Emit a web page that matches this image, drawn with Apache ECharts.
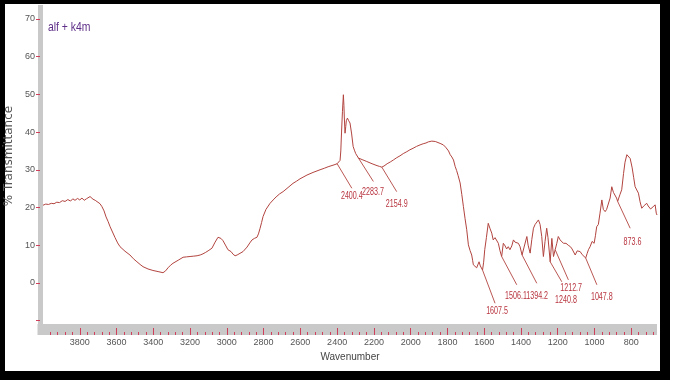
<!DOCTYPE html>
<html><head><meta charset="utf-8">
<script src="https://cdn.jsdelivr.net/npm/echarts@6/dist/echarts.min.js"></script>
<style>html,body{margin:0;padding:0;background:#fff}#c{width:673px;height:389px}</style>
</head><body><div id="c"></div>
<script>
const wavenumbers = [4000,3985,3970,3955,3940,3925,3910,3895,3880,3865,3850,3838,3826,3812,3800,3788,3776,3764,3755,3744,3736,3728,3716,3706,3690,3679,3668,3657,3646,3635,3622,3608,3594,3581,3554,3527,3508,3489,3472,3456,3429,3402,3374,3347,3333,3320,3306,3293,3265,3238,3220,3200,3180,3162,3145,3130,3115,3102,3081,3064,3048,3032,3021,3005,2994,2985,2977,2966,2955,2944,2934,2912,2890,2875,2863,2850,2836,2828,2819,2811,2803,2787,2765,2748,2732,2713,2694,2667,2640,2620,2602,2564,2531,2493,2470,2449,2417,2400,2390,2384,2380,2376,2371,2366,2363,2361,2357,2353,2350,2344,2337,2330,2321,2313,2306,2299,2284,2264,2239,2210,2183,2170,2157,2145,2128,2110,2094,2076,2058,2040,2021,2004,1987,1968,1949,1932,1917,1904,1894,1885,1876,1866,1856,1840,1822,1810,1802,1794,1785,1776,1767,1758,1750,1742,1731,1722,1713,1704,1695,1686,1677,1668,1663,1659,1650,1641,1633,1628,1621,1615,1609,1603,1597,1588,1578,1569,1559,1551,1541,1532,1523,1514,1505,1496,1486,1478,1469,1460,1450,1441,1432,1423,1414,1405,1394,1383,1368,1361,1350,1341,1332,1323,1314,1305,1296,1287,1278,1269,1260,1253,1241,1232,1223,1214,1205,1197,1187,1178,1169,1155,1143,1131,1122,1115,1105,1094,1086,1078,1067,1058,1048,1040,1033,1024,1013,1002,995,988,979,970,960,952,942,934,925,915,906,897,888,880,874,868,861,852,842,834,824,815,806,795,787,779,770,761,752,743,736,730,722,716,708,703,695,688,681,675,670,664,660];
const transmittance = [20.6,20.9,20.8,21.1,21.0,21.4,21.3,21.8,21.6,22.1,21.7,22.3,21.9,22.4,22.0,22.5,21.9,22.3,22.8,22.9,22.4,22.2,21.9,21.6,21.0,20.2,19.1,17.5,16.3,14.9,13.5,12.0,10.6,9.6,8.4,7.4,6.4,5.6,4.9,4.3,3.7,3.3,3.0,2.7,3.2,4.0,4.7,5.2,6.0,6.8,6.9,7.0,7.1,7.2,7.4,7.7,8.1,8.5,9.2,10.8,12.1,11.8,11.2,9.8,8.8,8.9,8.3,7.6,7.2,7.4,7.6,8.3,9.5,10.6,11.4,11.8,12.1,13.0,14.5,16.0,17.6,19.5,21.1,22.0,22.8,23.6,24.2,25.3,26.4,27.0,27.6,28.6,29.3,30.0,30.4,30.8,31.3,31.6,31.9,32.5,35.0,40.0,45.5,49.9,47.0,44.0,39.7,41.5,43.0,43.7,43.0,42.4,39.5,36.2,35.2,34.3,33.1,32.7,32.2,31.6,31.1,30.9,30.7,31.0,31.6,32.1,32.6,33.2,33.7,34.3,34.8,35.3,35.7,36.2,36.6,36.9,37.1,37.4,37.5,37.6,37.5,37.5,37.3,37.0,36.6,36.0,35.5,35.0,34.0,33.4,32.6,30.9,29.8,28.5,26.5,23.5,20.2,17.0,14.1,10.1,8.6,7.4,6.0,4.8,4.3,4.0,5.0,5.6,4.5,4.0,3.4,5.5,8.8,12.0,15.8,14.5,13.2,11.4,12.0,12.3,10.5,8.5,7.0,10.5,9.8,9.0,9.6,8.8,9.8,11.4,10.8,11.0,10.5,9.6,7.4,9.5,12.3,10.0,7.9,11.5,14.5,15.5,16.0,16.7,15.5,12.3,7.0,11.0,14.5,12.0,5.6,11.8,7.0,8.8,10.5,12.3,11.4,11.0,10.5,10.5,10.0,9.6,9.0,8.8,7.4,8.5,8.0,8.3,7.5,7.8,6.6,7.8,8.8,9.6,11.0,10.5,12.5,14.9,15.5,18.5,22.0,19.5,18.9,19.5,19.8,22.5,25.5,24.0,23.8,22.5,21.6,22.5,23.5,24.7,29.0,32.0,34.0,33.8,33.0,30.5,28.0,25.5,25.0,23.8,21.5,19.8,20.3,20.5,21.0,21.1,20.4,20.0,19.6,19.4,20.2,19.8,20.7,18.5,18.0];

const peakLabels = ['2400.4','2283.7','2154.9','1607.5','1506.1','1394.2','1240.8','1212.7','1047.8','873.6'];
const peakAnchors = [[2400,31.6],[2284,33.1],[2157,30.7],[1609,3.4],[1505,7.0],[1394,7.4],[1241,5.6],[1214,8.8],[1048,6.6],[874,21.6]];
const leaderEnds = [[2320,25.1],[2203,26.9],[2076,24.2],[1541,-5.4],[1423,-0.5],[1314,-0.1],[1178,0.3],[1142,0.8],[987,-0.5],[806,14.5]];
const labelCenters = [[2320,23.1],[2205,24.1],[2076,20.8],[1530,-7.4],[1427,-3.6],[1312,-3.4],[1155,-4.5],[1127,-1.4],[960,-3.8],[793,10.9]];

const xLabelValues = [800,1000,1200,1400,1600,1800,2000,2200,2400,2600,2800,3000,3200,3400,3600,3800];
const xMinorValues = [680,720,760,840,880,920,960,1040,1080,1120,1160,1240,1280,1320,1360,1440,1480,1520,1560,1640,1680,1720,1760,1840,1880,1920,1960,2040,2080,2120,2160,2240,2280,2320,2360,2440,2480,2520,2560,2640,2680,2720,2760,2840,2880,2920,2960,3040,3080,3120,3160,3240,3280,3320,3360,3440,3480,3520,3560,3640,3680,3720,3760,3840,3880,3920,3960];
const yLabelValues = [0,10,20,30,40,50,60,70];
const yTickValues = [-10,0,10,20,30,40,50,60,70];

const lineColor = '#b2443f';
const textRed = '#b8343f';
const tickRed = '#d0405a';
const bandGray = '#c9c9c9';
const narrow = "'Liberation Sans',Arial,sans-serif";
const X_MIN = 660, X_MAX = 4000, Y_MIN = -10.9, Y_MAX = 73.7;

const chart = echarts.init(document.getElementById('c'), null, {renderer: 'canvas'});

const baseX = {type: 'value', min: X_MIN, max: X_MAX, inverse: true, position: 'bottom', splitLine: {show: false}};

const annotationData = peakAnchors.map((a, i) => [a[0], a[1], leaderEnds[i][0], leaderEnds[i][1], labelCenters[i][0], labelCenters[i][1]]);

chart.setOption({
  animation: false,
  backgroundColor: '#ffffff',
  grid: {left: 43, right: 16, top: 5, bottom: 65},
  xAxis: [
    Object.assign({}, baseX, {
      offset: 5.5,
      axisLine: {show: true, onZero: false, lineStyle: {color: bandGray, width: 11, cap: 'butt'}},
      axisTick: {show: false},
      axisLabel: {customValues: xLabelValues, formatter: v => String(v), color: '#555', fontSize: 9, fontFamily: narrow, margin: 9},
      name: 'Wavenumber', nameLocation: 'middle', nameGap: 23,
      nameTextStyle: {color: '#444', fontSize: 10, fontFamily: narrow}
    }),
    Object.assign({}, baseX, {
      offset: 11,
      axisLine: {show: false, onZero: false},
      axisTick: {show: true, inside: true, length: 7, customValues: xLabelValues, lineStyle: {color: tickRed, width: 1}},
      axisLabel: {show: false}
    }),
    Object.assign({}, baseX, {
      offset: 11,
      axisLine: {show: false, onZero: false},
      axisTick: {show: true, inside: true, length: 3, customValues: xMinorValues, lineStyle: {color: tickRed, width: 1}},
      axisLabel: {show: false}
    })
  ],
  yAxis: {
    type: 'value', min: Y_MIN, max: Y_MAX, offset: 3,
    splitLine: {show: false},
    axisLine: {show: true, onZero: false, lineStyle: {color: bandGray, width: 5, cap: 'butt'}},
    axisTick: {show: true, length: 4, customValues: yTickValues, lineStyle: {color: tickRed, width: 1}},
    axisLabel: {customValues: yLabelValues, color: '#555', fontSize: 9, fontFamily: narrow, margin: 5}
  },
  graphic: [
    {type: 'rect', shape: {x: 37.5, y: 324, width: 6, height: 11}, style: {fill: bandGray}, silent: true},
    {type: 'rect', shape: {x: 0, y: 0, width: 670, height: 4}, style: {fill: '#000'}, silent: true},
    {type: 'rect', shape: {x: 0, y: 0, width: 5, height: 380}, style: {fill: '#000'}, silent: true},
    {type: 'rect', shape: {x: 660, y: 0, width: 10, height: 380}, style: {fill: '#000'}, silent: true},
    {type: 'rect', shape: {x: 0, y: 371, width: 670, height: 9}, style: {fill: '#000'}, silent: true},
    {type: 'text', x: 48, y: 27, scaleX: 0.8, style: {text: 'alf + k4m', fill: '#5e2f88', fontSize: 13, fontFamily: narrow, verticalAlign: 'middle'}, silent: true},
    {type: 'text', x: 9, y: 156, rotation: Math.PI / 2, style: {text: '% Transmittance', fill: '#555', fontSize: 12, fontFamily: "'DejaVu Sans',sans-serif", align: 'center', verticalAlign: 'middle'}, silent: true}
  ],
  series: [
    {
      type: 'line', xAxisIndex: 0, showSymbol: false, silent: true, z: 4,
      data: wavenumbers.map((w, i) => [w, transmittance[i]]),
      lineStyle: {color: lineColor, width: 1}
    },
    {
      type: 'custom', silent: true, z: 5, clip: false,
      data: annotationData,
      encode: {x: [0, 2, 4], y: [1, 3, 5]},
      renderItem: function (params, api) {
        const a = api.coord([api.value(0), api.value(1)]);
        const e = api.coord([api.value(2), api.value(3)]);
        const t = api.coord([api.value(4), api.value(5)]);
        return {
          type: 'group',
          children: [
            {type: 'line', shape: {x1: a[0], y1: a[1], x2: e[0], y2: e[1]}, style: {stroke: lineColor, lineWidth: 0.9}},
            {type: 'text', x: t[0], y: t[1], scaleX: 0.68, style: {text: peakLabels[params.dataIndex], fill: textRed, fontSize: 10.5, fontFamily: narrow, align: 'center', verticalAlign: 'middle'}}
          ]
        };
      }
    }
  ]
});
</script></body></html>
